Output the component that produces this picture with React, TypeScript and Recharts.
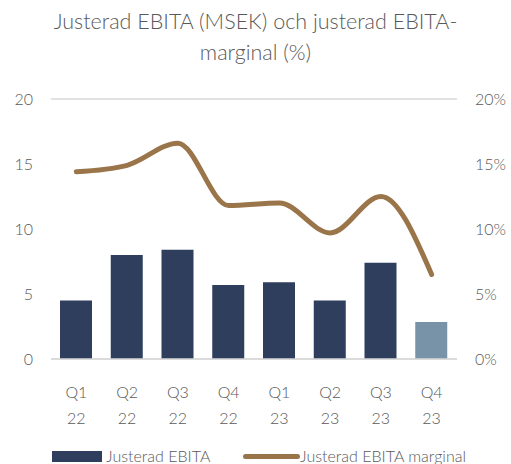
import { ComposedChart, Bar, Line, XAxis, YAxis, CartesianGrid, Cell, Legend } from 'recharts';

const quarters = ['Q1 22', 'Q2 22', 'Q3 22', 'Q4 22', 'Q1 23', 'Q2 23', 'Q3 23', 'Q4 23'];
const ebita = [4.5, 8.0, 8.4, 5.7, 5.9, 4.5, 7.4, 2.85];
const marginal = [14.4, 14.9, 16.6, 11.8, 12.0, 9.7, 12.5, 6.5];
const leftTicks = [0, 5, 10, 15, 20];
const rightTicks = [0, 5, 10, 15, 20];

const data = quarters.map((q, i) => ({ q, ebita: ebita[i], marginal: marginal[i] }));

const FONT = 'Lato, "Open Sans", sans-serif';
const TEXT = '#595959';
const NAVY = '#2E3E5C';
const LIGHT = '#7893A8';
const GOLD = '#997549';

function QuarterTick({ x, y, payload }: any) {
  const [a, b] = String(payload.value).split(' ');
  return (
    <g transform={`translate(${x},${y})`}>
      <text textAnchor="middle" fill={TEXT} fontSize={16} fontFamily={FONT} fontWeight={300}>
        <tspan x={0} dy={31}>{a}</tspan>
        <tspan x={0} dy={26}>{b}</tspan>
      </text>
    </g>
  );
}

function LegendContent() {
  return (
    <div style={{ position: 'relative', height: 20, fontFamily: FONT, fontWeight: 300, fontSize: 16, color: TEXT }}>
      <div style={{ position: 'absolute', left: 52, top: 5, width: 50, height: 11, background: NAVY }} />
      <span style={{ position: 'absolute', left: 106, top: 0, lineHeight: '20px' }}>Justerad EBITA</span>
      <div style={{ position: 'absolute', left: 243, top: 8, width: 57, height: 5, borderRadius: 3, background: GOLD }} />
      <span style={{ position: 'absolute', left: 300, top: 0, lineHeight: '20px' }}>Justerad EBITA marginal</span>
    </div>
  );
}

export default function App() {
  return (
    <div style={{ position: 'absolute', left: 0, top: 0, width: 511, height: 464, background: '#fff', overflow: 'hidden' }}>
      <div
        style={{
          position: 'absolute', left: 0, top: 6, width: 511, textAlign: 'center',
          fontFamily: FONT, fontWeight: 300, fontSize: 21.5, lineHeight: '31px', color: TEXT,
        }}
      >
        Justerad EBITA (MSEK) och justerad EBITA-
        <br />
        marginal (%)
      </div>
      <ComposedChart
        width={511}
        height={464}
        data={data}
        margin={{ top: 99, right: 0, left: 0, bottom: 0 }}
      >
        <CartesianGrid vertical={false} stroke="#D9D9D9" strokeWidth={1.5} />
        <XAxis
          dataKey="q"
          tick={<QuarterTick />}
          axisLine={{ stroke: '#D9D9D9', strokeWidth: 1.5 }}
          tickLine={false}
          height={85}
          interval={0}
        />
        <YAxis
          yAxisId="left"
          domain={[0, 20]}
          ticks={leftTicks}
          width={51}
          axisLine={false}
          tickLine={false}
          tickMargin={12}
          tick={{ fill: TEXT, fontSize: 16, fontFamily: FONT, fontWeight: 300 }}
        />
        <YAxis
          yAxisId="right"
          orientation="right"
          domain={[0, 20]}
          ticks={rightTicks}
          width={54}
          axisLine={false}
          tickLine={false}
          tickMargin={12}
          tickFormatter={(v) => `${v}%`}
          tick={{ fill: TEXT, fontSize: 16, fontFamily: FONT, fontWeight: 300 }}
        />
        <Bar yAxisId="left" dataKey="ebita" name="Justerad EBITA" barSize={32} isAnimationActive={false}>
          {data.map((d, i) => (
            <Cell key={d.q} fill={i === data.length - 1 ? LIGHT : NAVY} />
          ))}
        </Bar>
        <Line
          yAxisId="right"
          dataKey="marginal"
          name="Justerad EBITA marginal"
          type="monotone"
          stroke={GOLD}
          strokeWidth={5}
          strokeLinecap="round"
          dot={false}
          activeDot={false}
          isAnimationActive={false}
        />
        <Legend content={<LegendContent />} wrapperStyle={{ left: 0, top: 446, width: 511 }} />
      </ComposedChart>
    </div>
  );
}
